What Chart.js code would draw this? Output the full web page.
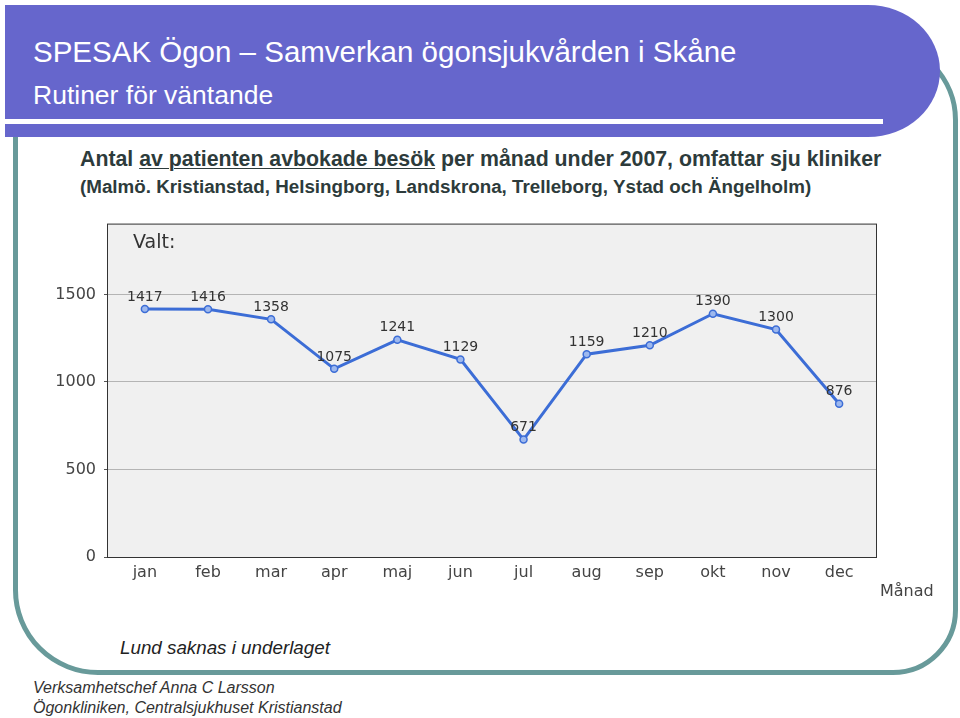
<!DOCTYPE html>
<html>
<head>
<meta charset="utf-8">
<script src="https://cdn.jsdelivr.net/npm/chart.js@4.4.0/dist/chart.umd.min.js"></script>
<style>
  html, body { margin: 0; padding: 0; background: #fff; }
  body { width: 960px; height: 718px; position: relative; overflow: hidden; font-family: "Liberation Sans", Arial, sans-serif; }
  .frame { position: absolute; left: 13px; top: 40px; width: 945px; height: 635px; box-sizing: border-box;
           border: 5px solid #689a9a; border-radius: 0 80px 65px 85px; }
  .header { position: absolute; left: 5px; top: 5px; width: 935px; height: 132px; background: #6666cc;
            border-radius: 0 72px 72px 0 / 0 66px 66px 0; }
  .hline { position: absolute; left: 5px; top: 119px; width: 878px; height: 5px; background: #fff; }
  .t1 { position: absolute; left: 33px; top: 34px; color: #fff; font-size: 29.5px; line-height: 36px; white-space: nowrap; }
  .t2 { position: absolute; left: 33px; top: 79px; color: #fff; font-size: 26.5px; line-height: 32px; white-space: nowrap; }
  .sub { position: absolute; left: 80px; color: #2d3b3b; font-weight: bold; line-height: 24px; white-space: nowrap; }
  .sub u { text-decoration-thickness: 1px; text-underline-offset: 2px; }
  .note { position: absolute; left: 120px; top: 637px; font-style: italic; font-size: 18.8px; color: #222; white-space: nowrap; }
  .foot { position: absolute; left: 33px; font-style: italic; font-size: 16px; color: #333; white-space: nowrap; line-height: 20px; }
  #wrap { position: absolute; left: 40px; top: 206px; width: 900px; height: 404px; }
</style>
</head>
<body>
<div class="frame"></div>
<div class="header"></div>
<div class="hline"></div>
<div class="t1">SPESAK Ögon – Samverkan ögonsjukvården i Skåne</div>
<div class="t2">Rutiner för väntande</div>
<div class="sub" style="top:147px; font-size:21.3px">Antal <u>av patienten avbokade besök</u> per månad under 2007, omfattar sju kliniker</div>
<div class="sub" style="top:175px; font-size:18.8px">(Malmö. Kristianstad, Helsingborg, Landskrona, Trelleborg, Ystad och Ängelholm)</div>
<div id="wrap"><canvas id="chart"></canvas></div>
<div class="note">Lund saknas i underlaget</div>
<div class="foot" style="top:678px">Verksamhetschef Anna C Larsson</div>
<div class="foot" style="top:698px">Ögonkliniken, Centralsjukhuset Kristianstad</div>

<script>
var months = ["jan", "feb", "mar", "apr", "maj", "jun", "jul", "aug", "sep", "okt", "nov", "dec"];
var cancelled = [1417, 1416, 1358, 1075, 1241, 1129, 671, 1159, 1210, 1390, 1300, 876];
var yTicks = [0, 500, 1000, 1500];

var chartFont = "DejaVu Sans";

// grey plot background, box border and the loose texts of the chart
var plotBox = {
    id: 'plotBox',
    beforeDraw: function (chart) {
        var ctx = chart.ctx, a = chart.chartArea;
        ctx.save();
        ctx.fillStyle = '#f0f0f0';
        ctx.fillRect(a.left, a.top, a.right - a.left, a.bottom - a.top);
        ctx.restore();
    },
    afterDraw: function (chart) {
        var ctx = chart.ctx, a = chart.chartArea;
        ctx.save();
        ctx.strokeStyle = '#333';
        ctx.lineWidth = 1;
        ctx.strokeRect(a.left + 0.5, a.top + 0.5, a.right - a.left - 1, a.bottom - a.top);
        ctx.fillStyle = '#333';
        ctx.font = '19px "' + chartFont + '"';
        ctx.textBaseline = 'middle';
        ctx.fillText('Valt:', a.left + 26, a.top + 19);
        ctx.fillStyle = '#444';
        ctx.font = '16px "' + chartFont + '"';
        ctx.fillText('Månad', a.right + 3, a.bottom + 35);
        ctx.restore();
    }
};

// value labels above each point
var valueLabels = {
    id: 'valueLabels',
    afterDatasetsDraw: function (chart) {
        var ctx = chart.ctx;
        var meta = chart.getDatasetMeta(0);
        ctx.save();
        ctx.fillStyle = '#333';
        ctx.font = '14px "' + chartFont + '"';
        ctx.textAlign = 'center';
        ctx.textBaseline = 'middle';
        meta.data.forEach(function (pt, i) {
            ctx.fillText(String(cancelled[i]), pt.x, pt.y - 12);
        });
        ctx.restore();
    }
};

new Chart(document.getElementById('chart'), {
    type: 'line',
    data: {
        datasets: [{
            data: cancelled.map(function (v, i) { return { x: i, y: v }; }),
            borderColor: '#3c6dd6',
            borderWidth: 3,
            pointRadius: 3.5,
            pointBorderWidth: 1.5,
            pointBackgroundColor: '#9db8ee',
            pointBorderColor: '#3c6dd6',
            tension: 0
        }]
    },
    options: {
        responsive: true,
        maintainAspectRatio: false,
        animation: false,
        layout: { padding: { top: 4, right: 63, left: 0, bottom: 0 } },
        plugins: {
            legend: { display: false },
            tooltip: { enabled: false }
        },
        scales: {
            x: {
                type: 'linear',
                min: -0.6,
                max: 11.6,
                afterBuildTicks: function (scale) {
                    scale.ticks = months.map(function (m, i) { return { value: i }; });
                },
                afterFit: function (scale) { scale.height = 53; },
                grid: { display: false },
                border: { display: false },
                ticks: {
                    autoSkip: false,
                    maxRotation: 0,
                    padding: -2,
                    color: '#444',
                    font: { family: chartFont, size: 16 },
                    callback: function (v) { return months[v]; }
                }
            },
            y: {
                min: 0,
                max: 1905,
                afterBuildTicks: function (scale) {
                    scale.ticks = yTicks.map(function (v) { return { value: v }; });
                },
                afterFit: function (scale) { scale.width = 67; },
                grid: { color: '#b4b4b4', tickLength: 3, tickColor: '#555' },
                border: { display: false },
                ticks: {
                    padding: 8,
                    color: '#444',
                    font: { family: chartFont, size: 16 },
                    callback: function (v) { return String(v); }
                }
            }
        }
    },
    plugins: [plotBox, valueLabels]
});
</script>
</body>
</html>
